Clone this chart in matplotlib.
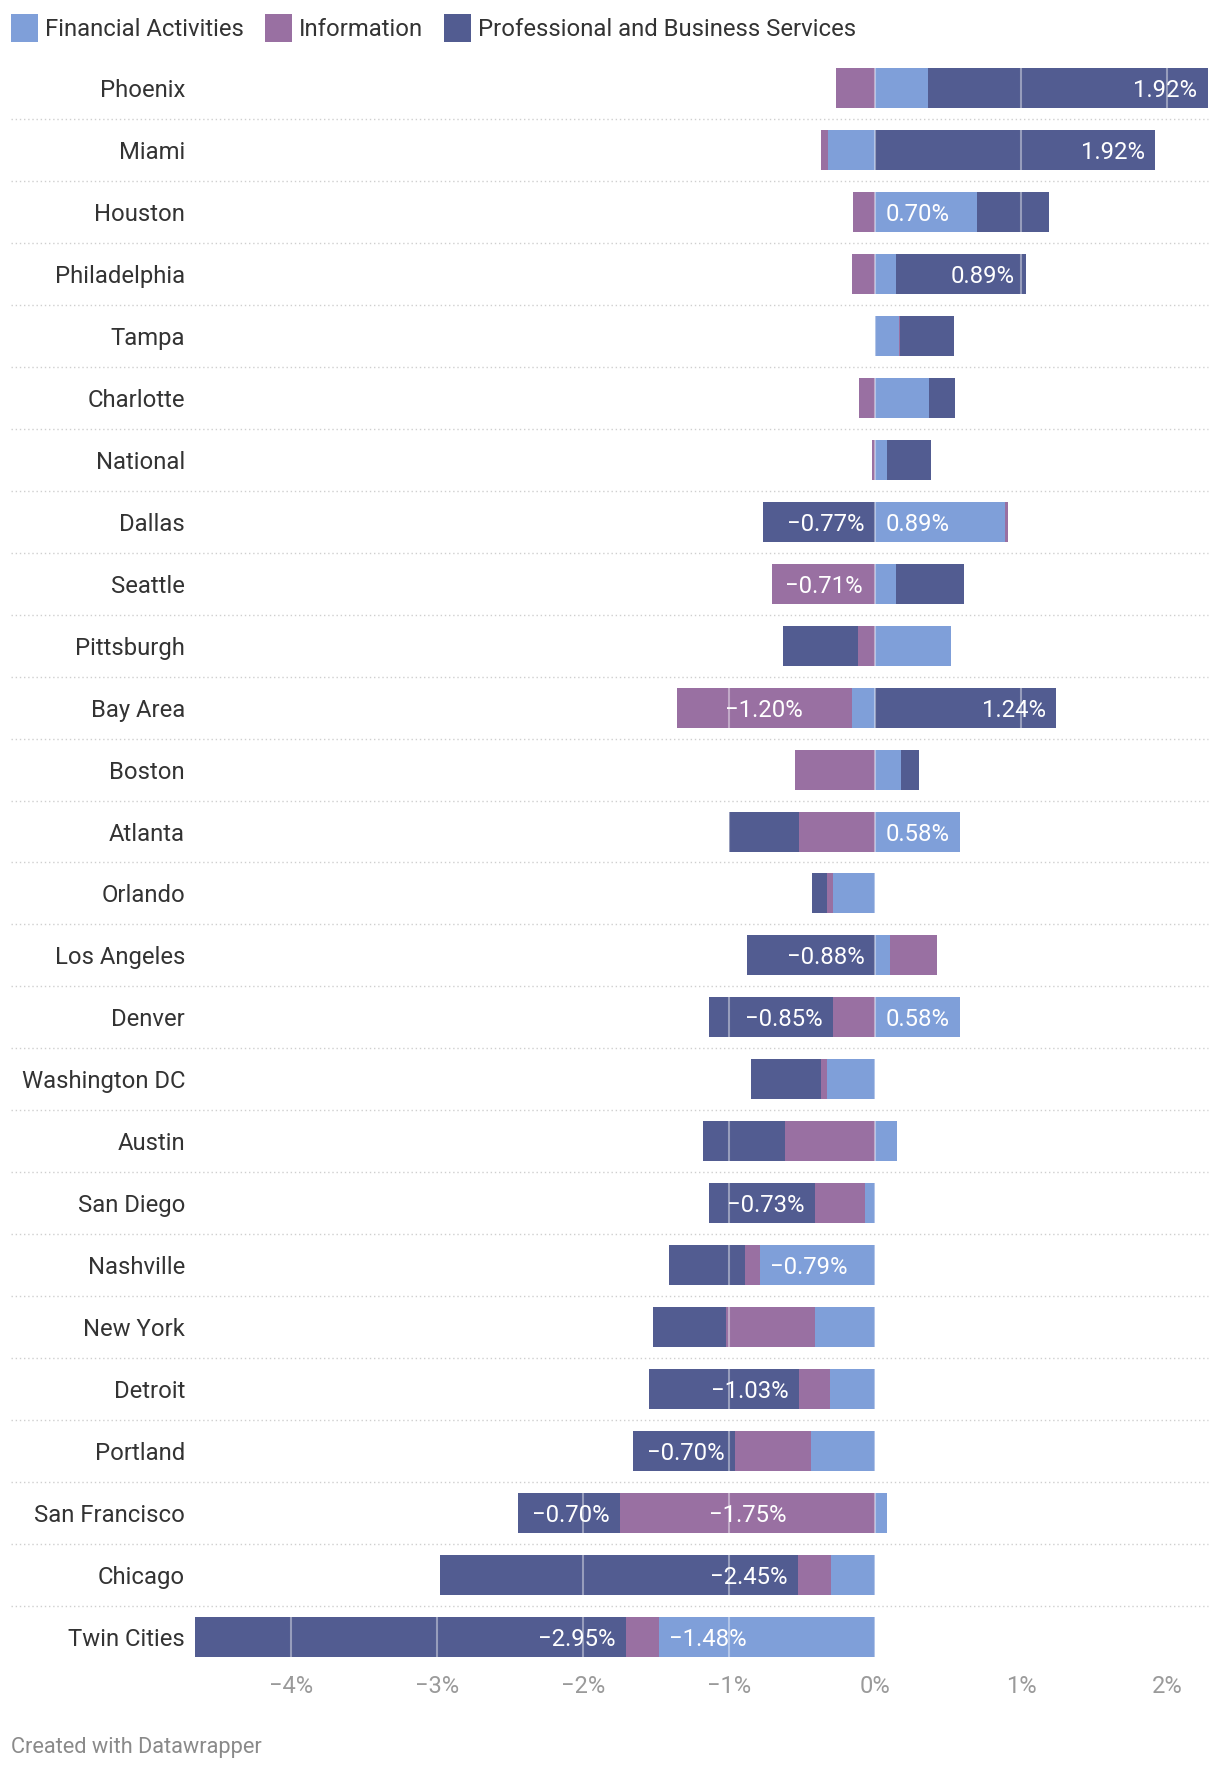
import numpy as np
import matplotlib
matplotlib.use("Agg")
import matplotlib.pyplot as plt
from matplotlib.patches import Rectangle

cities = ["Phoenix", "Miami", "Houston", "Philadelphia", "Tampa", "Charlotte", "National",
          "Dallas", "Seattle", "Pittsburgh", "Bay Area", "Boston", "Atlanta", "Orlando",
          "Los Angeles", "Denver", "Washington DC", "Austin", "San Diego", "Nashville",
          "New York", "Detroit", "Portland", "San Francisco", "Chicago", "Twin Cities"]
financial = [0.36, -0.32, 0.70, 0.14, 0.16, 0.37, 0.08, 0.89, 0.14, 0.52, -0.16, 0.18, 0.58,
             -0.29, 0.10, 0.58, -0.33, 0.15, -0.07, -0.79, -0.41, -0.31, -0.44, 0.08, -0.30, -1.48]
information = [-0.27, -0.05, -0.15, -0.16, 0.01, -0.11, -0.02, 0.02, -0.71, -0.12, -1.20, -0.55, -0.52,
               -0.04, 0.32, -0.29, -0.04, -0.62, -0.34, -0.10, -0.61, -0.21, -0.52, -1.75, -0.23, -0.23]
professional = [1.92, 1.92, 0.49, 0.89, 0.37, 0.18, 0.30, -0.77, 0.47, -0.51, 1.24, 0.12, -0.48,
                -0.10, -0.88, -0.85, -0.48, -0.56, -0.73, -0.52, -0.50, -1.03, -0.70, -0.70, -2.45, -2.95]
series = ["Financial Activities", "Information", "Professional and Business Services"]
colors = ["#7f9fd9", "#9970a2", "#525c91"]
ticks = [-4, -3, -2, -1, 0, 1, 2]

plt.rcParams['font.family'] = ['Roboto', 'DejaVu Sans']

W, H = 1220, 1772
def fx(x): return x / W
def fy(y): return 1 - y / H

fig = plt.figure(figsize=(W / 100, H / 100), dpi=100)
ax = fig.add_axes([fx(195), fy(1668), fx(1208) - fx(195), fy(57) - fy(1668)])

vals = np.array([financial, information, professional])
n = len(cities)
y = np.arange(n)
pos_base = np.zeros(n)
neg_base = np.zeros(n)
labels = []
for i in range(3):
    v = vals[i]
    left = np.where(v >= 0, pos_base, neg_base + v)
    ax.barh(y, np.abs(v), left=left, height=0.645, color=colors[i], zorder=2)
    for k in range(n):
        lo, hi = left[k], left[k] + abs(v[k])
        txt = f"{v[k]:.2f}%".replace("-", "\u2212")
        if i == 0:
            xy, off, ha = (lo, k), 7.2, "left"
        elif i == 1:
            xy, off, ha = ((lo + hi) / 2, k), 0, "center"
        else:
            xy, off, ha = (hi, k), -7.6, "right"
        t = ax.annotate(txt, xy=xy, xytext=(off, 0), textcoords="offset points",
                        ha=ha, va="center_baseline", color="white", fontsize=17.2, zorder=5)
        labels.append((t, abs(v[k])))
    pos_base += np.where(v >= 0, v, 0)
    neg_base += np.where(v < 0, v, 0)

ax.set_xlim(neg_base.min(), pos_base.max())
ax.set_ylim(n - 0.5, -0.5)
for s in ax.spines.values():
    s.set_visible(False)

ax.set_yticks(y)
ax.set_yticklabels(cities, fontsize=17.2, color="#333333")
ax.set_xticks(ticks)
ax.set_xticklabels([f"{t}%".replace("-", "\u2212") for t in ticks], fontsize=17, color="#9a9a9a")
ax.tick_params(axis="y", length=0, pad=7.2)
ax.tick_params(axis="x", length=0, pad=5)

# grid lines drawn over the bars
ax.vlines(ticks, -0.5, n - 0.5, color="white", alpha=0.4, lw=1.5, zorder=3)

# dotted row separators
for k in range(n - 1):
    ax.plot([-0.1816, 1], [k + 0.5, k + 0.5], transform=ax.get_yaxis_transform(),
            color="#cfcfcf", lw=1.0, ls=(0, (1, 2)), clip_on=False, zorder=4)

fig.canvas.draw()
r = fig.canvas.get_renderer()
px_per_unit = ax.transData.transform((1, 0))[0] - ax.transData.transform((0, 0))[0]
for t, w in labels:
    if t.get_window_extent(r).width + 20 > w * px_per_unit:
        t.remove()

# legend
x = 11
for name, c in zip(series, colors):
    fig.add_artist(Rectangle((fx(x), fy(42)), 27 / W, 28 / H, transform=fig.transFigure,
                             color=c, lw=0))
    t = fig.text(fx(x + 34), fy(29), name, ha="left", va="center", fontsize=17.2, color="#333333")
    x = x + 34 + t.get_window_extent(r).width + 21

fig.text(fx(11), fy(1748), "Created with Datawrapper", ha="left", va="center",
         fontsize=15.7, color="#8a8a8a")

fig.savefig("out.png", dpi=100)
